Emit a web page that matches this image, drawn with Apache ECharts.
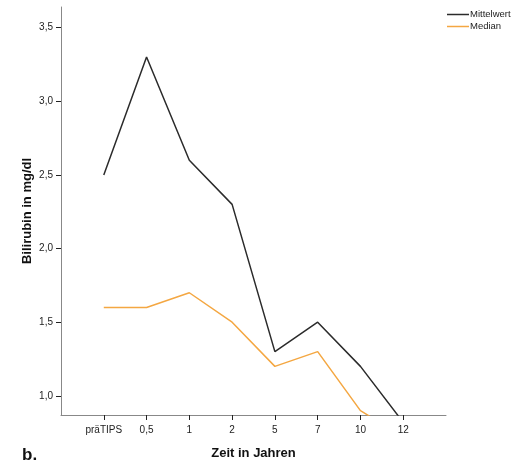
<!DOCTYPE html>
<html>
<head>
<meta charset="utf-8">
<script src="https://cdn.jsdelivr.net/npm/echarts@6/dist/echarts.min.js"></script>
<style>
  html, body { margin: 0; padding: 0; background: #fff; }
  #chart { width: 514px; height: 466px; }
</style>
</head>
<body>
<div id="chart"></div>
<script>
// Zeitpunkte (leere Randkategorien schaffen Abstand zur Achse)
const categories = ['', 'präTIPS', '0,5', '1', '2', '5', '7', '10', '12', ''];
// Bilirubin in mg/dl
const mittelwert = [null, 2.5, 3.3, 2.6, 2.3, 1.3, 1.5, 1.2, 0.82, null];
const median = [null, 1.6, 1.6, 1.7, 1.5, 1.2, 1.3, 0.9, 0.72, null];
const yTicks = [1.0, 1.5, 2.0, 2.5, 3.0, 3.5];

const chart = echarts.init(document.getElementById('chart'), null, { renderer: 'canvas' });
const font = 'Liberation Sans, Arial, sans-serif';

chart.setOption({
  animation: false,
  grid: { left: 61, right: 68, top: 7, bottom: 51, containLabel: false },
  legend: {
    orient: 'vertical',
    left: 447,
    top: 9.5,
    padding: 0,
    icon: 'rect',
    itemWidth: 22,
    itemHeight: 1.5,
    itemGap: 2,
    textStyle: { fontFamily: font, fontSize: 9.5, color: '#222', padding: [0, 0, 0, -4], lineHeight: 10 },
    data: ['Mittelwert', 'Median']
  },
  xAxis: {
    type: 'category',
    data: categories,
    boundaryGap: false,
    axisLine: { lineStyle: { color: '#888', width: 1 } },
    axisTick: {
      length: 5,
      interval: (i, v) => v !== '',
      lineStyle: { color: '#222' }
    },
    axisLabel: {
      interval: 0,
      fontFamily: font, fontSize: 10, color: '#222', margin: 10
    },
    name: 'Zeit in Jahren',
    nameLocation: 'middle',
    nameGap: 32,
    nameTextStyle: { fontFamily: font, fontSize: 13, fontWeight: 'bold', color: '#111' },
    splitLine: { show: false }
  },
  yAxis: {
    type: 'value',
    min: 0.87,
    max: 3.64,
    axisLine: { show: true, lineStyle: { color: '#888', width: 1 } },
    axisTick: { show: true, length: 5, customValues: yTicks, lineStyle: { color: '#222' } },
    axisLabel: {
      customValues: yTicks,
      fontFamily: font, fontSize: 10, color: '#222', margin: 8,
      formatter: v => v.toFixed(1).replace('.', ',')
    },
    splitLine: { show: false },
    name: 'Bilirubin in mg/dl',
    nameLocation: 'middle',
    nameGap: 27,
    nameMoveOverlap: false,
    nameTextStyle: { fontFamily: font, fontSize: 13, fontWeight: 'bold', color: '#111' }
  },
  series: [
    {
      name: 'Mittelwert', type: 'line', data: mittelwert, symbol: 'none',
      lineStyle: { color: '#2b2b2b', width: 1.5 }, itemStyle: { color: '#2b2b2b' }, clip: true
    },
    {
      name: 'Median', type: 'line', data: median, symbol: 'none',
      lineStyle: { color: '#f4a742', width: 1.5 }, itemStyle: { color: '#f4a742' }, clip: true
    }
  ],
  graphic: [{
    type: 'text', left: 22, top: 447,
    style: { text: 'b.', font: 'bold 17px ' + font, fill: '#111' }
  }]
});
</script>
</body>
</html>
